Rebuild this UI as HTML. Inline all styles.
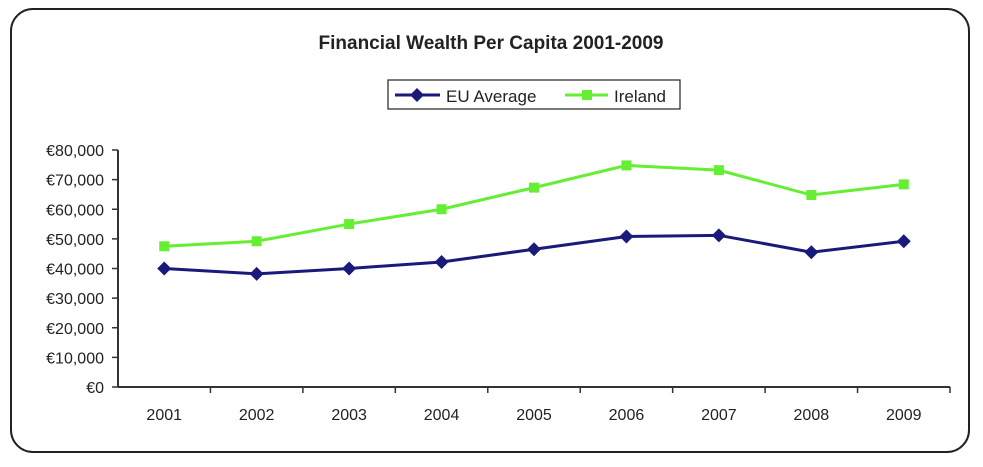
<!DOCTYPE html>
<html><head><meta charset="utf-8"><style>
body{margin:0;background:#fff;width:983px;height:462px;overflow:hidden;font-family:"Liberation Sans",Arial,sans-serif}
</style></head><body>
<svg width="983" height="462">
<rect x="11" y="9" width="958" height="443" rx="22" fill="#fff" stroke="#222" stroke-width="2"/>
<text x="491" y="49" text-anchor="middle" font-size="19" font-weight="bold" fill="#222">Financial Wealth Per Capita 2001-2009</text>
<g>
<rect x="388" y="80" width="292" height="29" fill="#fff" stroke="#222" stroke-width="1.2"/>
<line x1="395" y1="95" x2="440" y2="95" stroke="#1a1a7a" stroke-width="3"/>
<path d="M417 88 L424 95 L417 102 L410 95Z" fill="#1a1a7a"/>
<text x="446" y="102" font-size="17" fill="#222">EU Average</text>
<line x1="565" y1="95" x2="608" y2="95" stroke="#66ee33" stroke-width="3"/>
<rect x="582" y="90" width="10" height="10" fill="#66ee33"/>
<text x="614" y="102" font-size="17" fill="#222">Ireland</text>
</g>
<g id="axes"></g>
<g id="series"></g>
</svg>
<script>
const categories=["2001","2002","2003","2004","2005","2006","2007","2008","2009"];
const euAverage=[40000,38200,40000,42200,46500,50800,51200,45500,49200];
const ireland=[47500,49200,55000,60000,67300,74800,73200,64800,68400];
const yTicks=[0,10000,20000,30000,40000,50000,60000,70000,80000];
const ns="http://www.w3.org/2000/svg";
const X0=118,W=832,Y0=387,H=237,YMAX=80000;
const cw=W/categories.length;
const xs=i=>X0+cw*(i+0.5);
const ys=v=>Y0-v/YMAX*H;
function mk(t,a,p){const e=document.createElementNS(ns,t);for(const k in a)e.setAttribute(k,a[k]);p.appendChild(e);return e;}
const ax=document.getElementById('axes'),se=document.getElementById('series');
const ya=mk('line',{x1:X0,y1:ys(YMAX),x2:X0,y2:Y0,stroke:'#333','stroke-width':2},ax);


const xa=mk('line',{x1:X0,y1:Y0,x2:X0+W,y2:Y0,stroke:'#333','stroke-width':2},ax);


yTicks.forEach(v=>{
 mk('line',{x1:X0-6,y1:ys(v),x2:X0,y2:ys(v),stroke:'#333','stroke-width':1.5},ax);
 const t=mk('text',{x:X0-14,y:ys(v)+6,'text-anchor':'end','font-size':16,fill:'#222'},ax);
 t.textContent='€'+v.toLocaleString('en-US');
 
 
});
categories.forEach((c,i)=>{
 const bx=X0+cw*(i+1);
 mk('line',{x1:bx,y1:Y0,x2:bx,y2:Y0+6,stroke:'#333','stroke-width':1.5},ax);
 const t=mk('text',{x:xs(i),y:Y0+33,'text-anchor':'middle','font-size':16,fill:'#222'},ax);
 t.textContent=c;
 
 
});
function series(vals,color,name,shape){
 const g=mk('g',{},se);
 
 
 mk('polyline',{points:vals.map((v,i)=>xs(i)+','+ys(v)).join(' '),fill:'none',stroke:color,'stroke-width':3},g);
 vals.forEach((v,i)=>{
  const x=xs(i),y=ys(v);let m;
  if(shape==='d')m=mk('path',{d:`M${x} ${y-7}L${x+7} ${y}L${x} ${y+7}L${x-7} ${y}Z`,fill:color},g);
  else m=mk('rect',{x:x-5,y:y-5,width:10,height:10,fill:color},g);
  
  
 });
}
series(ireland,'#66ee33','ireland-line','s');
series(euAverage,'#1a1a7a','eu-average-line','d');
</script>
</body></html>
